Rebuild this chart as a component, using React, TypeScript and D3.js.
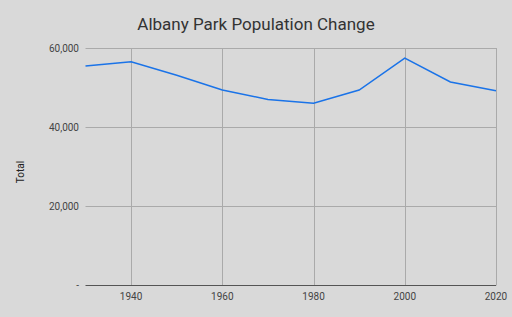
import React from "react";
import * as d3 from "d3";

const years = [1930, 1940, 1950, 1960, 1970, 1980, 1990, 2000, 2010, 2020];
const totals = [55450, 56540, 53100, 49390, 46990, 46030, 49390, 57470, 51410, 49210];
const yTicks = [0, 20000, 40000, 60000];
const xTicks = [1940, 1960, 1980, 2000, 2020];

const W = 512, H = 317;
const M = { left: 85.5, right: 496, top: 48, bottom: 285.5 };

export default function App() {
  const x = d3.scaleLinear().domain([1930, 2020]).range([M.left, M.right]);
  const y = d3.scaleLinear().domain([0, 60000]).range([M.bottom, M.top]);
  const line = d3.line<number>().x((_, i) => x(years[i])).y((d) => y(d));
  const fmt = (v: number) => (v === 0 ? "-" : d3.format(",")(v));
  const font = "Roboto, sans-serif";
  return (
    <svg width={W} height={H} style={{ position: "absolute", left: 0, top: 0 }}>
      <rect width={W} height={H} fill="#d9d9d9" />
      <text x={256} y={30} textAnchor="middle" fontFamily={font} fontSize={17} fill="#333">
        Albany Park Population Change
      </text>
      {yTicks.filter((t) => t !== 0).map((t) => (
        <line key={"h" + t} x1={M.left} x2={M.right} y1={Math.round(y(t)) + 0.5} y2={Math.round(y(t)) + 0.5} stroke="#aaaaaa" strokeWidth={1} />
      ))}
      {xTicks.map((t) => (
        <line key={"v" + t} x1={Math.round(x(t)) + 0.5} x2={Math.round(x(t)) + 0.5} y1={M.top} y2={M.bottom} stroke="#aaaaaa" strokeWidth={1} />
      ))}
      <line x1={M.left} x2={M.right} y1={M.bottom} y2={M.bottom} stroke="#555" strokeWidth={1} />
      {yTicks.map((t) => (
        <text key={"yl" + t} x={79} y={y(t) + 3.5} textAnchor="end" fontFamily={font} fontSize={10} fill="#444">
          {fmt(t)}
        </text>
      ))}
      {xTicks.map((t) => (
        <text key={"xl" + t} x={x(t)} y={300} textAnchor="middle" fontFamily={font} fontSize={10} fill="#444">
          {t}
        </text>
      ))}
      <text transform="translate(24,172) rotate(-90)" textAnchor="middle" fontFamily={font} fontSize={10} fill="#222">
        Total
      </text>
      <path d={line(totals) || ""} fill="none" stroke="#1a73e8" strokeWidth={1.5} />
    </svg>
  );
}
